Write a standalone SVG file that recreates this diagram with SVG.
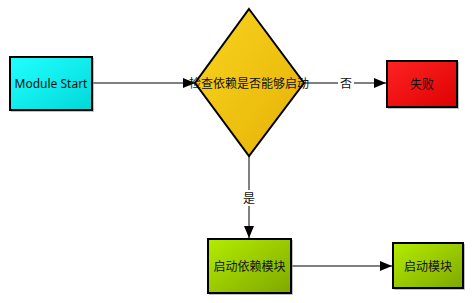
<svg xmlns="http://www.w3.org/2000/svg" width="472" height="303" viewBox="0 0 472 303">
<defs>
<linearGradient id="gc" x1="0" y1="0" x2="1" y2="1"><stop offset="0" stop-color="#22ffff"/><stop offset="1" stop-color="#00d8d8"/></linearGradient>
<linearGradient id="gy" x1="0" y1="0" x2="1" y2="1"><stop offset="0" stop-color="#fad420"/><stop offset="1" stop-color="#e5b205"/></linearGradient>
<linearGradient id="gr" x1="0" y1="0" x2="1" y2="1"><stop offset="0" stop-color="#ff2424"/><stop offset="1" stop-color="#dd0000"/></linearGradient>
<linearGradient id="gg" x1="0" y1="0" x2="1" y2="1"><stop offset="0" stop-color="#b4ec00"/><stop offset="1" stop-color="#7ea800"/></linearGradient>
<marker id="ah" viewBox="0 0 12 10" refX="12" refY="5" markerWidth="12" markerHeight="10" markerUnits="userSpaceOnUse" orient="auto"><path d="M0,0 L12,5 L0,10 z" fill="#000"/></marker>
</defs>
<style>
.n{stroke:#000;stroke-width:2}
.sh{fill:#999;opacity:0.6}
.t{font-family:"Noto Sans","Noto Sans CJK SC",sans-serif;font-size:12px;fill:#111;text-anchor:middle;dominant-baseline:central}
.c{stroke:#000;stroke-width:1;fill:none;marker-end:url(#ah)}
.lb{fill:#fff}
</style>
<rect width="472" height="303" fill="#fff"/>
<g id="connectors">
<line class="c" x1="92" y1="83" x2="195" y2="83"/>
<line class="c" x1="304" y1="83" x2="386" y2="83"/>
<line class="c" x1="249" y1="156" x2="249" y2="238"/>
<line class="c" x1="292" y1="266" x2="392" y2="266"/>
<rect class="lb" x="338" y="75" width="16" height="16"/>
<text class="t" x="346" y="83">否</text>
<rect class="lb" x="241" y="190" width="16" height="16"/>
<text class="t" x="249" y="198">是</text>
</g>
<g id="start">
<rect class="sh" x="11" y="58" width="83" height="54"/>
<rect class="n" x="10" y="57" width="82" height="53" fill="url(#gc)"/>
<text class="t" x="51" y="83">Module Start</text>
</g>
<g id="check">
<path class="n" d="M249,9 L304,83 L249,156 L195,83 Z" fill="url(#gy)" stroke-linejoin="miter"/>
<text class="t" x="249" y="83">检查依赖是否能够启动</text>
</g>
<g id="fail">
<rect class="sh" x="388" y="62" width="71" height="47"/>
<rect class="n" x="387" y="61" width="70" height="46" fill="url(#gr)"/>
<text class="t" x="422" y="84">失败</text>
</g>
<g id="startDeps">
<rect class="sh" x="209" y="240" width="84" height="55"/>
<rect class="n" x="208" y="239" width="83" height="54" fill="url(#gg)"/>
<text class="t" x="249.5" y="266">启动依赖模块</text>
</g>
<g id="startModule">
<rect class="sh" x="394" y="244" width="71" height="46"/>
<rect class="n" x="393" y="243" width="70" height="45" fill="url(#gg)"/>
<text class="t" x="428" y="266">启动模块</text>
</g>
</svg>
